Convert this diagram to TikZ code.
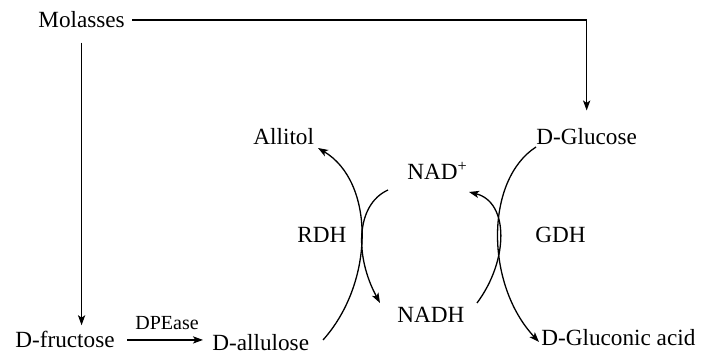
\documentclass[tikz,border=0pt]{standalone}
\usepackage{fontspec}
\setmainfont{Liberation Serif}
\usetikzlibrary{arrows.meta}
\usetikzlibrary{positioning}

\begin{document}
\begin{tikzpicture}
[
	x = 0.5pt, y = -0.5pt,
	chem/.style	= {inner sep = 0pt, anchor = base west, font = \fontsize{11.6}{13}\selectfont},
	enz/.style	= {chem},
	small/.style	= {chem, font = \fontsize{10}{12}\selectfont},
	conv/.style	= {-{Stealth[length = 5pt, width = 3.6pt, inset = 1.2pt]}, line width = 0.65pt},
]
	\useasboundingbox (0,0) rectangle (707,356);

	\node (molasses) [chem] at (38,28) {Molasses};
	\node (glucose) [chem] at (536,145) {D-Glucose};
	\node (fructose) [chem] at (15,348) {D-fructose};
	\node (allulose) [chem] at (212,351) {D-allulose};
	\node (dpease) [small] at (135,330) {DPEase};
	%
	\node (allitol) [chem] at (253,145) {Allitol};
	\node (nadp) [chem] at (407,180) {NAD\textsuperscript{+}};
	\node (nadh) [chem] at (397,323) {NADH};
	\node (gluconic) [chem] at (541,346) {D-Gluconic acid};
	\node (rdh) [enz] at (297,243) {RDH};
	\node (gdh) [enz] at (535,243) {GDH};

	\coordinate (rdh1) at (323,340);
	\coordinate (rdh2) at (318,148);
	\coordinate (rdh3) at (388,190);
	\coordinate (rdh4) at (380,303);
	\coordinate (gdh1) at (536,147);
	\coordinate (gdh2) at (539,342);
	\coordinate (gdh3) at (477,303);
	\coordinate (gdh4) at (469,192);

	\draw [conv, shorten < = 3.5pt, shorten > = 9pt] (molasses.east) -| (glucose.north);
	\draw [conv, shorten > = 3pt] ([yshift = -7pt] molasses.south) -- (molasses.south |- fructose.north);
	\draw [conv, shorten < = 6pt, shorten > = 4.5pt] (fructose.east) -- (fructose.east -| allulose.west);

	\draw [conv] (rdh1) .. controls (375,282) and (375,182) .. (rdh2);
	\draw [conv] (rdh3) .. controls (355,205) and (355,257) .. (rdh4);
	\draw [conv] (gdh1) .. controls (485,180) and (485,284) .. (gdh2);
	\draw [conv] (gdh3) .. controls (509,260) and (509,202) .. (gdh4);

\end{tikzpicture}
\end{document}
